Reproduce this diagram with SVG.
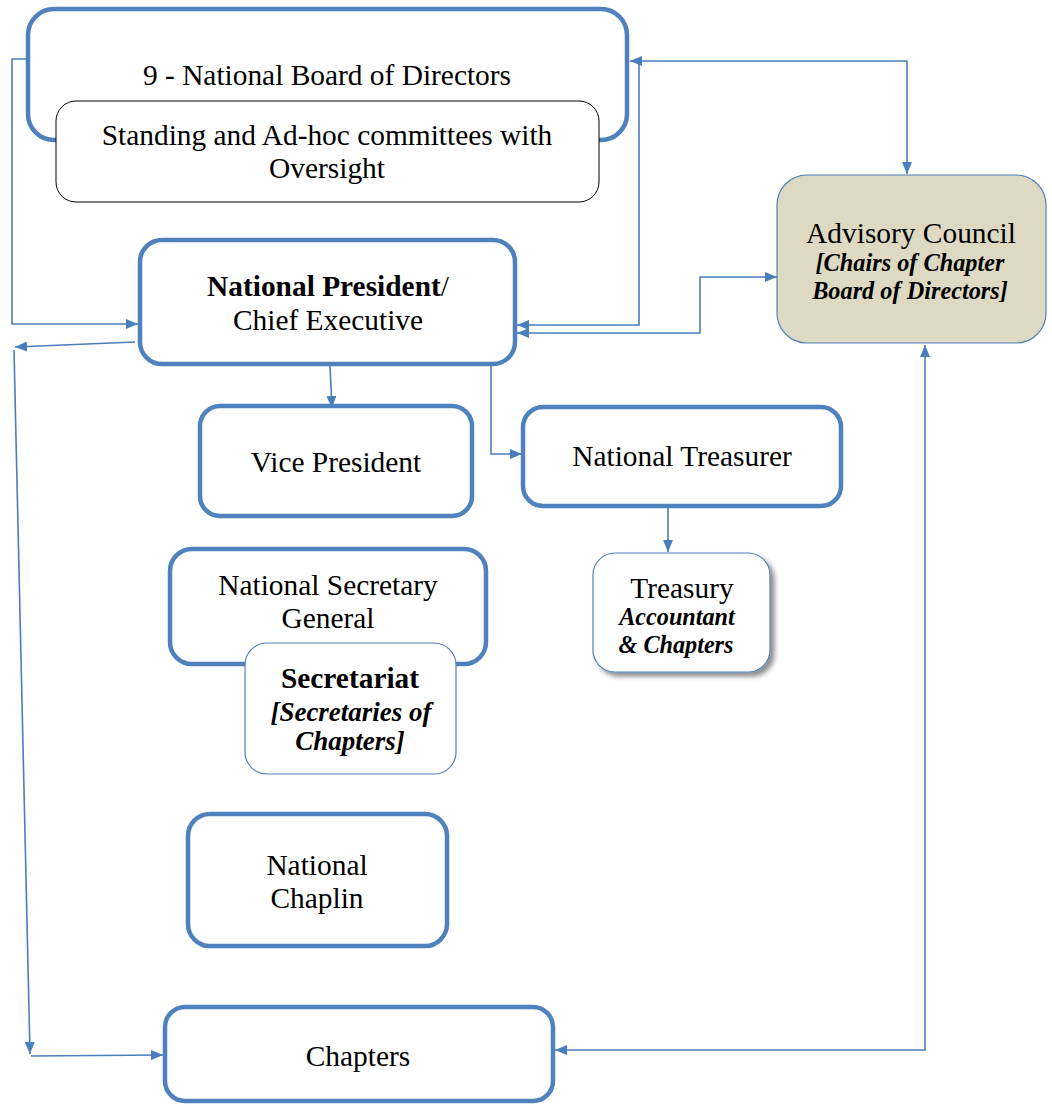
<svg xmlns="http://www.w3.org/2000/svg" width="1052" height="1104" viewBox="0 0 1052 1104">
<style>
.box{fill:#ffffff;stroke:#4f81bd;stroke-width:4.5}
.thin{fill:#ffffff;stroke:#4f81bd;stroke-width:1.2}
.t{font-family:"Liberation Serif","Times New Roman",serif;font-size:29.4px;fill:#000;text-anchor:middle}
.b{font-weight:bold}
.bi{font-weight:bold;font-style:italic}
.c{fill:none;stroke:#4a7ebb;stroke-width:1.6}
</style>
<defs>
<marker id="ah" viewBox="0 0 12 10" refX="12" refY="5" markerWidth="12" markerHeight="10" markerUnits="userSpaceOnUse" orient="auto-start-reverse">
<path d="M0,0 L12,5 L0,10 Z" fill="#4a7ebb"/>
</marker>
<filter id="sh" x="-10%" y="-10%" width="130%" height="130%">
<feGaussianBlur in="SourceAlpha" stdDeviation="2.5"/>
<feOffset dx="4" dy="4" result="o"/>
<feComponentTransfer><feFuncA type="linear" slope="0.45"/></feComponentTransfer>
<feMerge><feMergeNode/><feMergeNode in="SourceGraphic"/></feMerge>
</filter>
</defs>

<g id="connectors">
<path class="c" d="M28,59 H12 V324 H138" marker-end="url(#ah)"/>
<path class="c" d="M135,342 L15,347" marker-end="url(#ah)"/>
<path class="c" d="M14,350 L30,1054" marker-end="url(#ah)"/>
<path class="c" d="M31,1056 L163,1055" marker-end="url(#ah)"/>
<path class="c" d="M907,174 V61 H630" marker-start="url(#ah)" marker-end="url(#ah)"/>
<path class="c" d="M639,61 V325 H517" marker-end="url(#ah)"/>
<path class="c" d="M517,333 H700 V277 H777" marker-start="url(#ah)" marker-end="url(#ah)"/>
<path class="c" d="M925,345 V1050 H555" marker-start="url(#ah)" marker-end="url(#ah)"/>
<path class="c" d="M330,366 L332,408" marker-end="url(#ah)"/>
<path class="c" d="M491,366 V454 H522" marker-end="url(#ah)"/>
<path class="c" d="M668,507 V552" marker-end="url(#ah)"/>
</g>

<g id="board">
<rect class="box" x="28" y="9" width="599" height="131" rx="26"/>
<text class="t" x="327" y="85">9 - National Board of Directors</text>
</g>

<g id="committees">
<rect x="56" y="101" width="543" height="101" rx="20" fill="#ffffff" stroke="#000000" stroke-width="1"/>
<text class="t" x="327" y="145">Standing and Ad-hoc committees with</text>
<text class="t" x="327" y="178">Oversight</text>
</g>

<g id="president">
<rect class="box" x="140" y="240" width="375" height="124" rx="22"/>
<text class="t" x="328" y="296"><tspan class="b">National President</tspan>/</text>
<text class="t" x="328" y="330">Chief Executive</text>
</g>

<g id="advisory">
<rect x="777" y="175" width="269" height="168" rx="30" fill="#ddd9c3" stroke="#4f81bd" stroke-width="1.2"/>
<text class="t" x="911" y="243">Advisory Council</text>
<text class="t bi" x="910" y="271" style="font-size:24.3px">[Chairs of Chapter</text>
<text class="t bi" x="910" y="299" style="font-size:24.3px">Board of Directors]</text>
</g>

<g id="vice-president">
<rect class="box" x="200" y="406" width="272" height="110" rx="20"/>
<text class="t" x="336" y="472">Vice President</text>
</g>

<g id="treasurer">
<rect class="box" x="523" y="407" width="318" height="99" rx="20"/>
<text class="t" x="682" y="466">National Treasurer</text>
</g>

<g id="treasury">
<rect class="thin" x="593" y="553" width="177" height="119" rx="22" filter="url(#sh)"/>
<text class="t" x="682" y="598">Treasury</text>
<text class="t bi" x="677" y="625" style="font-size:24.2px">Accountant</text>
<text class="t bi" x="676" y="653" style="font-size:24.2px">&amp; Chapters</text>
</g>

<g id="secretary-general">
<rect class="box" x="170" y="549" width="316" height="115" rx="22"/>
<text class="t" x="328" y="595">National Secretary</text>
<text class="t" x="328" y="628">General</text>
</g>

<g id="secretariat">
<rect class="thin" x="245" y="643" width="211" height="131" rx="22"/>
<text class="t b" x="350" y="688">Secretariat</text>
<text class="t bi" x="351" y="721" style="font-size:27px">[Secretaries of</text>
<text class="t bi" x="350" y="750" style="font-size:27px">Chapters]</text>
</g>

<g id="chaplin">
<rect class="box" x="188" y="814" width="259" height="132" rx="22"/>
<text class="t" x="317" y="875">National</text>
<text class="t" x="317" y="908">Chaplin</text>
</g>

<g id="chapters">
<rect class="box" x="165" y="1007" width="388" height="94" rx="20"/>
<text class="t" x="358" y="1066">Chapters</text>
</g>
</svg>
